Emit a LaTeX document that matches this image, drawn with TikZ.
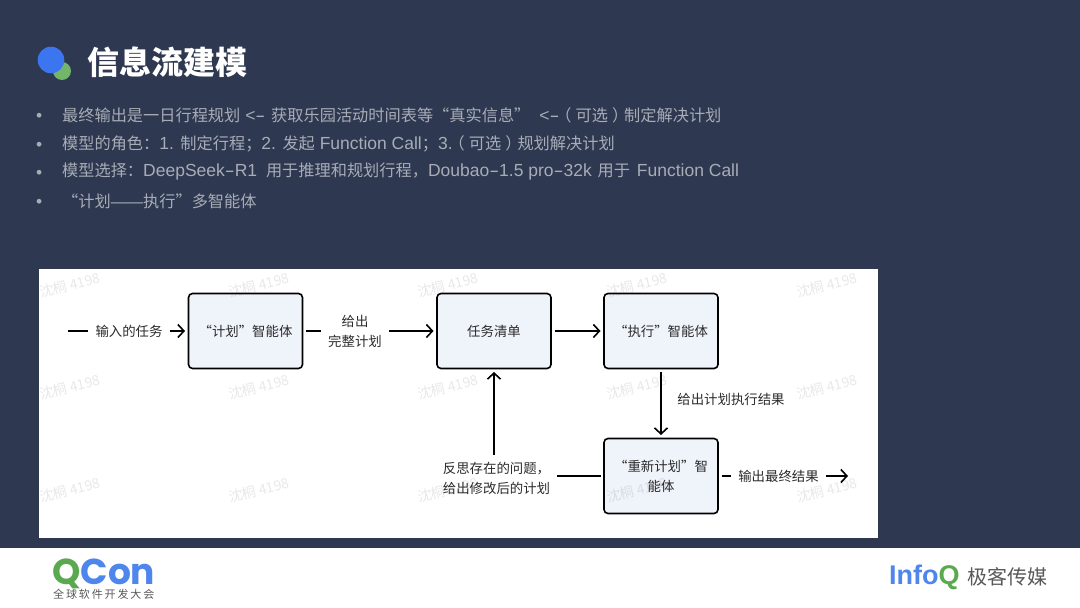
\documentclass[tikz,border=0pt]{standalone}
\usepackage{fontspec}
\setmainfont{Noto Sans CJK SC}
\newfontfamily\latinfont[Scale=1.08]{Liberation Sans}
\newfontfamily\logofont{Poppins}
\newfontfamily\infofont{Liberation Sans}
\newfontfamily\spacedfont[LetterSpace=17]{Noto Sans CJK SC}
\newcommand{\la}[1]{{\latinfont #1}}
\newcommand{\ldash}{\scalebox{1.7}[1]{-}}
\newcommand{\openp}{\kern-4pt（\kern4pt}
\newcommand{\closep}{\kern4pt）\kern-4pt}
\usetikzlibrary{arrows.meta,positioning}
\definecolor{slide}{HTML}{2E3850}
\definecolor{bullettext}{HTML}{A7ACB6}
\definecolor{boxfill}{HTML}{EFF3FA}
\definecolor{inktext}{HTML}{2B2B2B}
\definecolor{qblue}{HTML}{4F86EC}
\definecolor{qgreen}{HTML}{5AA84F}
\definecolor{iconblue}{HTML}{3B76F0}
\tikzset{
  agentbox/.style={draw=black,fill=boxfill,line width=1.6pt,outer sep=3.5pt,rounded corners=4pt,minimum width=114pt,minimum height=75pt,align=center,text=inktext,font=\fontsize{13.4}{20}\selectfont},
  flowlabel/.style={text=inktext,align=center,inner sep=7pt,font=\fontsize{13.4}{20}\selectfont},
  bulletline/.style={anchor=west,inner sep=0pt,text=bullettext,font=\fontsize{16.2}{20}\selectfont},
  bulletdot/.style={bulletline,yshift=-2pt,font=\latinfont\fontsize{16.2}{20}\selectfont},
  watermark/.style={rotate=14,text=black,text opacity=0.09,font=\fontsize{14}{16}\selectfont},
  flow/.style={line width=1.6pt,draw=black}
}
\begin{document}
\begin{tikzpicture}[x=1pt,y=-1pt,node distance=248.5pt,on grid,>={Straight Barb[length=6pt,width=13pt]}]
  \useasboundingbox (0,0) rectangle (1080,608);
  \fill[slide] (0,0) rectangle (1080,608);
  \fill[white] (0,548) rectangle (1080,608);
  \fill[white] (39,269) rectangle (878,538);
  % heading
  \fill[qgreen!85!white] (62,71) circle (9);
  \fill[iconblue] (51,60) circle (13.3);
  \node[anchor=west,inner sep=0pt,text=white,font=\fontsize{32}{36}\bfseries\selectfont] (title) at (87,62) {信息流建模};
  \node[bulletline] (line_1) at (62,115) {最终输出是一日行程规划\la{ <\ldash{} }\kern1pt获取乐园活动时间表等“真实信息”\kern4pt\la{ <\ldash{}}\openp 可选\closep 制定解决计划};
  \node[bulletline] (line_2) at (62,144) {模型的角色：\la{1. }制定行程；\la{2. }发起\la{ Function Call}；\la{3.}\openp 可选\closep 规划解决计划};
  \node[bulletline] (line_3) at (62,172) {模型选择：\la{DeepSeek\ldash{}R1 }\kern4pt用于推理和规划行程，\la{Doubao\ldash{}1.5 pro\ldash{}32k }\kern1pt用于\kern2pt\la{ Function Call}};
  \node[bulletline] (line_4) at (62,201) {“计划\la{\fontsize{15}{20}\selectfont ——}执行”多智能体};
  \node[bulletdot] (dot_1) at (36,115) {•};
  \node[bulletdot] (dot_2) at (36,144) {•};
  \node[bulletdot] (dot_3) at (36,172) {•};
  \node[bulletdot] (dot_4) at (36,201) {•};
  % boxes
  \node[agentbox] (plan) at (245.5,331) {“计划”智能体};
  \node[agentbox] (tasks) [right=of plan] {任务清单};
  \node[agentbox] (exec) [right=167pt of tasks] {“执行”智能体};
  \node[agentbox] (replan) [below=145pt of exec] {“重新计划”智\\能体};
  % labels
  \node[flowlabel] (input) [left=116.5pt of plan] {输入的任务};
  \node[flowlabel] (whole) [right=109.5pt of plan] {给出\\完整计划};
  \node[flowlabel] (result) [below=68pt of exec,xshift=70pt] {给出计划执行结果};
  \node[flowlabel,align=left] (reflect) [left=164.5pt of replan,yshift=-2pt] {反思存在的问题，\\给出修改后的计划};
  \node[flowlabel] (final) [right=117.5pt of replan] {输出最终结果};
  \coordinate (start) at (68,331);
  \coordinate (finish) at (848,476);
  % connectors
  \draw[flow] (start) -- (input);
  \draw[flow,->] (input) -- (plan);
  \draw[flow] (plan) -- (whole);
  \draw[flow,->] (whole) -- (tasks);
  \draw[flow,->] (tasks) -- (exec);
  \draw[flow,->] (exec) -- (replan);
  \draw[flow] (replan) -- (replan -| reflect.east);
  \draw[flow,->] (reflect.north -| tasks) -- (tasks);
  \draw[flow] (replan) -- (final);
  \draw[flow,->] (final) -- (finish);
  % watermark
  \foreach \wx in {70,259,448,637,827} {
    \foreach \wy in {285,387,490} {
      \node[watermark] at (\wx,\wy) {沈桐 4198};
    }
  }
  % footer logos
  \node[anchor=west,inner sep=0pt,font=\logofont\fontsize{36}{40}\bfseries\selectfont] (qcon) at (52,574) {\textcolor{qgreen}{Q}\textcolor{qblue}{Con}};
  \node[anchor=west,inner sep=0pt,text=black!65,font=\spacedfont\fontsize{11}{14}\selectfont] (qcon_sub) at (53,594) {全球软件开发大会};
  \node[anchor=west,inner sep=0pt,font=\infofont\fontsize{27}{28}\bfseries\selectfont] (infoq) at (889,577) {\textcolor{qblue}{Info}\textcolor{qgreen}{Q}};
  \node[anchor=west,inner sep=0pt,text=black!65,font=\fontsize{20}{24}\selectfont] (geek) at (967,577) {极客传媒};
\end{tikzpicture}
\end{document}
